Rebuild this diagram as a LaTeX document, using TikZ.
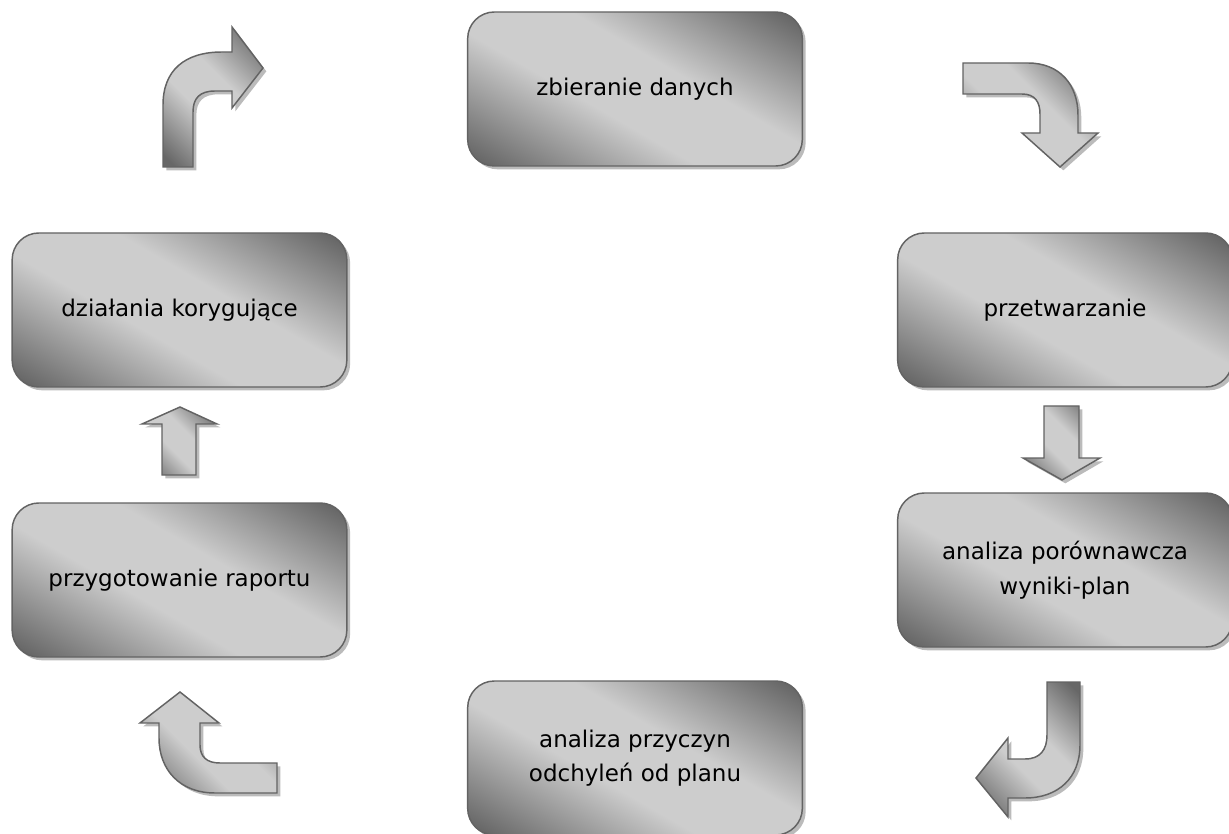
\documentclass[tikz,border=0pt]{standalone}
\usepackage{fontspec}
\setmainfont{DejaVu Sans}
\usepackage{tikz}
\usetikzlibrary{shadows}
\definecolor{shdark}{HTML}{676767}
\definecolor{shlight}{HTML}{CDCDCD}
\definecolor{edgegray}{HTML}{636363}
\definecolor{shadowgray}{HTML}{BBBBBB}
\pgfdeclarehorizontalshading{boxshade}{100bp}{color(0bp)=(shdark); color(18bp)=(shdark); color(42bp)=(shlight); color(58bp)=(shlight); color(82bp)=(shdark); color(100bp)=(shdark)}

\begin{document}
\begin{tikzpicture}[x=0.75pt,y=-0.75pt,
    box/.style={rectangle,rounded corners=20pt,minimum width=251pt,minimum height=115.5pt,
      draw=edgegray,line width=1.1pt,shading=boxshade,shading angle=60,align=center,
      font=\fontsize{17.25pt}{26pt}\selectfont,
      drop shadow={shadow xshift=2.5pt,shadow yshift=-2.5pt,fill=shadowgray,opacity=1}},
    blockarrow/.style={draw=edgegray,line width=1.1pt,shading=boxshade,shading angle=45,line join=miter,
      drop shadow={shadow xshift=2.5pt,shadow yshift=-2.5pt,fill=shadowgray,opacity=1}}]
        \useasboundingbox (0,0) rectangle (1229,834);
        \node[box] (zbier) at (635,89) {zbieranie danych};
        \node[box] (przetw) at (1065,310) {przetwarzanie};
        \node[box] (porown) at (1065,570) {analiza porównawcza\\wyniki-plan};
        \node[box] (przycz) at (635,758) {analiza przyczyn\\odchyleń od planu};
        \node[box] (raport) at (179.5,580) {przygotowanie raportu};
        \node[box] (korekta) at (179.5,310) {działania korygujące};
        \path[blockarrow] (963,63) -- (1028,63) .. controls (1060,63) and (1078,85) .. (1078,115)
          -- (1078,133) -- (1098,133) -- (1060,167) -- (1022,133) -- (1040,133) -- (1040,114)
          .. controls (1040,102) and (1035,94) .. (1022,94) -- (963,94) -- cycle;
        \path[blockarrow] (1044,406) -- (1079,406) -- (1079,458) -- (1100,458) -- (1062,480)
          -- (1023,458) -- (1044,458) -- cycle;
        \path[blockarrow] (1047,682) -- (1080,682) -- (1080,745) .. controls (1080,778) and (1058,798) .. (1025,798)
          -- (1008,798) -- (1008,817) -- (976,778) -- (1008,738) -- (1008,759) -- (1025,759)
          .. controls (1040,759) and (1047,750) .. (1047,735) -- cycle;
        \path[blockarrow] (277,763) -- (277,793) -- (215,793) .. controls (180,793) and (159,770) .. (159,738)
          -- (159,723) -- (140,723) -- (180,692) -- (219,723) -- (200,723) -- (200,745)
          .. controls (200,757) and (207,763) .. (220,763) -- cycle;
        \path[blockarrow] (162,475) -- (162,424) -- (142,424) -- (180,407) -- (217,424) -- (196,424)
          -- (196,475) -- cycle;
        \path[blockarrow] (163,167) -- (163,105) .. controls (163,70) and (185,52) .. (222,52)
          -- (232,52) -- (232,27) -- (263,68) -- (232,108) -- (232,91) -- (215,91)
          .. controls (200,91) and (193,98) .. (193,112) -- (193,167) -- cycle;
\end{tikzpicture}
\end{document}
